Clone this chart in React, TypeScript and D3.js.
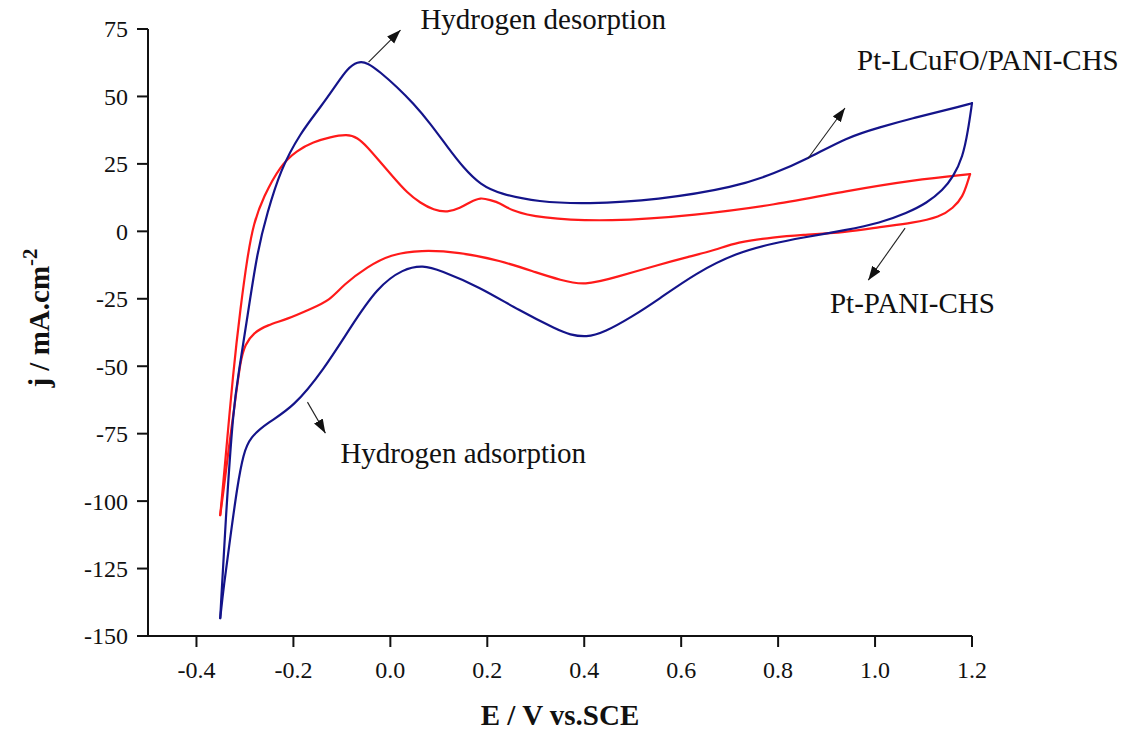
import React from "react";
import * as d3 from "d3";

const W = 1135;
const H = 733;

const xDomain: [number, number] = [-0.5, 1.2];
const yDomain: [number, number] = [-150, 75];
const xTicks = [-0.4, -0.2, 0.0, 0.2, 0.4, 0.6, 0.8, 1.0, 1.2];
const yTicks = [-150, -125, -100, -75, -50, -25, 0, 25, 50, 75];

// Pt-LCuFO/PANI-CHS  (E / V, j / mA cm^-2)
const blueAnodic: [number, number][] = [
  [-0.351, -143.4], [-0.34, -107.1], [-0.324, -65.2], [-0.313, -52.5], [-0.295, -31.8],
  [-0.274, -6.9], [-0.254, 6.8], [-0.227, 22.7], [-0.186, 36.4], [-0.144, 46.0],
  [-0.109, 55.0], [-0.089, 60.2], [-0.068, 63.0], [-0.047, 62.6], [-0.021, 59.0],
  [0.014, 53.5], [0.047, 47.5], [0.082, 40.1], [0.118, 31.2], [0.151, 23.5],
  [0.186, 17.2], [0.227, 13.8], [0.305, 10.9], [0.404, 10.1], [0.551, 11.6],
  [0.713, 16.4], [0.794, 21.6], [0.86, 26.8], [0.942, 34.9], [1.01, 38.6],
  [1.078, 42.0], [1.148, 45.0], [1.2, 47.5],
];
const blueCathodic: [number, number][] = [
  [1.2, 47.5], [1.192, 37.5], [1.181, 27.5], [1.161, 20.1], [1.14, 15.3],
  [1.107, 10.5], [1.066, 6.8], [1.01, 3.1], [0.942, 0.5], [0.845, -2.5],
  [0.794, -4.3], [0.713, -8.0], [0.631, -15.4], [0.551, -25.5], [0.5, -31.5],
  [0.44, -37.6], [0.404, -39.3], [0.37, -38.3], [0.346, -36.6], [0.264, -29.2],
  [0.184, -20.6], [0.101, -14.3], [0.068, -12.6], [0.027, -13.8], [-0.027, -20.7],
  [-0.082, -35.5], [-0.138, -51.4], [-0.2, -65.2], [-0.254, -71.0], [-0.289, -76.3],
  [-0.303, -82.2], [-0.316, -94.7], [-0.33, -113.2], [-0.344, -131.9], [-0.351, -143.4],
];

// Pt-PANI-CHS
const redAnodic: [number, number][] = [
  [-0.351, -105.2], [-0.344, -92.2], [-0.324, -51.4], [-0.309, -28.1], [-0.295, -9.5],
  [-0.282, 3.1], [-0.262, 12.7], [-0.227, 24.5], [-0.192, 30.1], [-0.159, 33.1],
  [-0.124, 35.0], [-0.089, 36.0], [-0.068, 34.8], [-0.047, 31.2], [-0.021, 25.7],
  [0.006, 20.1], [0.035, 14.2], [0.062, 10.5], [0.089, 7.9], [0.118, 7.0],
  [0.144, 8.6], [0.165, 10.9], [0.186, 12.6], [0.206, 11.6], [0.227, 10.5],
  [0.247, 7.9], [0.305, 4.9], [0.452, 3.5], [0.631, 6.0], [0.794, 9.8],
  [0.942, 15.0], [1.078, 19.0], [1.196, 21.2],
];
const redCathodic: [number, number][] = [
  [1.196, 21.2], [1.192, 18.9], [1.181, 12.7], [1.161, 8.6], [1.134, 5.3],
  [1.078, 3.1], [1.01, 1.6], [0.942, -0.3], [0.845, -1.4], [0.794, -2.1],
  [0.713, -4.0], [0.672, -6.9], [0.614, -9.5], [0.551, -12.5], [0.468, -16.9],
  [0.4, -20.2], [0.35, -18.0], [0.305, -15.5], [0.225, -10.7], [0.142, -7.7],
  [0.062, -6.9], [0.0, -8.6], [-0.047, -13.1], [-0.097, -19.8], [-0.124, -25.5],
  [-0.165, -28.8], [-0.212, -32.5], [-0.254, -34.8], [-0.282, -37.5], [-0.3, -42.0],
  [-0.309, -47.7], [-0.32, -62.6], [-0.334, -81.1], [-0.344, -96.0], [-0.351, -105.2],
];

// annotations: label, text anchor point (E, j), arrow start, arrow tip
const annLabels = ["Hydrogen desorption", "Pt-LCuFO/PANI-CHS", "Pt-PANI-CHS", "Hydrogen adsorption"];
const annText: [number, number][] = [[0.062, 75.0], [0.963, 59.8], [0.907, -30.3], [-0.103, -85.9]];
const annFrom: [number, number][] = [[-0.045, 62.7], [0.862, 27.1], [1.062, 1.2], [-0.171, -63.3]];
const annTo: [number, number][] = [[0.021, 74.6], [0.938, 45.7], [0.986, -18.1], [-0.134, -74.8]];

const BLUE = "#14148a";
const RED = "#ff1a1a";
const FONT = "'Liberation Serif', 'Times New Roman', serif";

export default function App() {
  const x = d3.scaleLinear().domain(xDomain).range([148, 972]);
  const y = d3.scaleLinear().domain(yDomain).range([636, 29]);
  const line = d3
    .line<[number, number]>()
    .x((d) => x(d[0]))
    .y((d) => y(d[1]))
    .curve(d3.curveBasis);

  const tickLen = 11;

  return (
    <div style={{ position: "absolute", left: 0, top: 0 }}>
      <svg width={W} height={H} style={{ display: "block", background: "#fff" }}>
        <defs>
          <marker id="ah" markerUnits="userSpaceOnUse" markerWidth="16" markerHeight="12"
            refX="14" refY="5" orient="auto">
            <path d="M0,0 L14,5 L0,10 Z" fill="#111" />
          </marker>
        </defs>

        {/* axes */}
        <g stroke="#111" strokeWidth={2} fill="none">
          <line x1={x(xDomain[0])} x2={x(xDomain[1])} y1={y(yDomain[0])} y2={y(yDomain[0])} />
          <line x1={x(xDomain[0])} x2={x(xDomain[0])} y1={y(yDomain[0])} y2={y(yDomain[1])} />
          {xTicks.map((t) => (
            <line key={"xt" + t} x1={x(t)} x2={x(t)} y1={y(yDomain[0])} y2={y(yDomain[0]) + tickLen} />
          ))}
          {yTicks.map((t) => (
            <line key={"yt" + t} x1={x(xDomain[0]) - tickLen} x2={x(xDomain[0])} y1={y(t)} y2={y(t)} />
          ))}
        </g>
        <g fontFamily={FONT} fontSize={24} fill="#111">
          {xTicks.map((t) => (
            <text key={"xl" + t} x={x(t)} y={678} textAnchor="middle">
              {d3.format(".1f")(t).replace("−", "-")}
            </text>
          ))}
          {yTicks.map((t) => (
            <text key={"yl" + t} x={x(xDomain[0]) - 20} y={y(t)} dy="0.35em" textAnchor="end">
              {String(t)}
            </text>
          ))}
        </g>

        {/* axis titles */}
        <text x={560} y={725} textAnchor="middle" fontFamily={FONT} fontWeight="bold" fontSize={29} fill="#111">
          E / V vs.SCE
        </text>
        <text transform="translate(49,318) rotate(-90)" textAnchor="middle" fontFamily={FONT}
          fontWeight="bold" fontSize={29} fill="#111">
          j / mA.cm<tspan dy={-12} fontSize={21}>-2</tspan>
        </text>

        {/* curves */}
        <g fill="none" strokeWidth={2.2} strokeLinejoin="round" strokeLinecap="round">
          <path d={line(redAnodic) || ""} stroke={RED} />
          <path d={line(redCathodic) || ""} stroke={RED} />
          <path d={line(blueAnodic) || ""} stroke={BLUE} />
          <path d={line(blueCathodic) || ""} stroke={BLUE} />
        </g>

        {/* annotations */}
        {annLabels.map((lab, i) => (
          <g key={lab}>
            <line x1={x(annFrom[i][0])} y1={y(annFrom[i][1])} x2={x(annTo[i][0])} y2={y(annTo[i][1])}
              stroke="#222" strokeWidth={1.1} markerEnd="url(#ah)" />
            <text x={x(annText[i][0])} y={y(annText[i][1])} fontFamily={FONT} fontSize={29} fill="#111">
              {lab}
            </text>
          </g>
        ))}
      </svg>
    </div>
  );
}
